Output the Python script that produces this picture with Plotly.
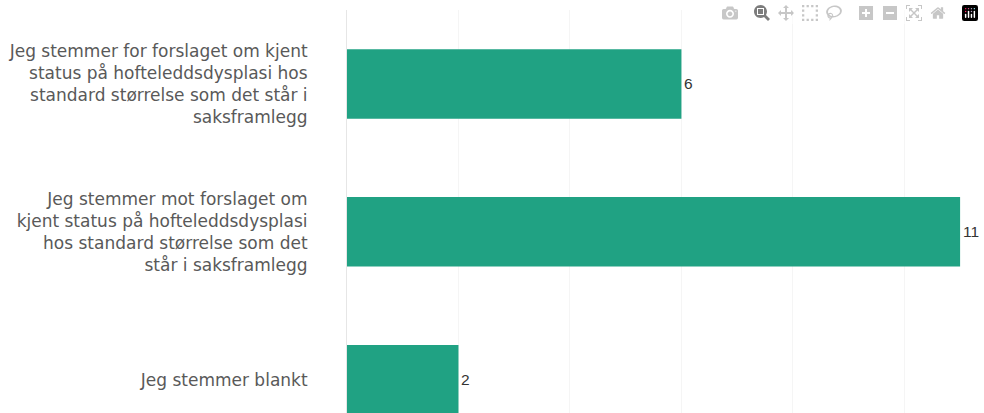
import plotly.graph_objects as go

categories = [
    "Jeg stemmer for forslaget om kjent<br>status på hofteleddsdysplasi hos<br>standard størrelse som det står i<br>saksframlegg",
    "Jeg stemmer mot forslaget om<br>kjent status på hofteleddsdysplasi<br>hos standard størrelse som det<br>står i saksframlegg",
    "Jeg stemmer blankt",
]
values = [6, 11, 2]
positions = [0, 1, 2]

fig = go.Figure(go.Bar(
    x=values,
    y=positions,
    orientation="h",
    width=0.47,
    marker=dict(color="#20a283", line=dict(width=0)),
    hoverinfo="skip",
))

for v, p in zip(values, positions):
    fig.add_annotation(
        x=v, y=p, text=str(v), showarrow=False,
        xanchor="left", yanchor="middle", xshift=1,
        font=dict(family="Liberation Sans, Arial", size=15.5, color="#333333"),
    )

fig.update_layout(
    width=984,
    height=413,
    margin=dict(l=347, r=20, t=10, b=0, autoexpand=False),
    paper_bgcolor="white",
    plot_bgcolor="white",
    showlegend=False,
    xaxis=dict(
        range=[0, 11.07],
        tickvals=[2, 4, 6, 8, 10],
        showticklabels=False,
        showgrid=True,
        gridcolor="#f5f5f5",
        gridwidth=1,
        zeroline=False,
        showline=False,
        automargin=False,
    ),
    yaxis=dict(
        range=[2.225, -0.5],
        tickvals=positions,
        ticktext=categories,
        tickfont=dict(family="DejaVu Sans", size=17, color="#595959"),
        ticklabelstandoff=35,
        showgrid=False,
        zeroline=False,
        showline=True,
        linecolor="#e6e6e6",
        linewidth=1,
        ticks="",
        automargin=False,
    ),
)

fig.write_html(
    "out.html",
    post_script=(
        "document.body.style.margin='0';"
        "document.body.style.padding='0';"
        "document.documentElement.style.overflow='hidden';"
        "document.body.style.overflow='hidden';"
    ),
)
